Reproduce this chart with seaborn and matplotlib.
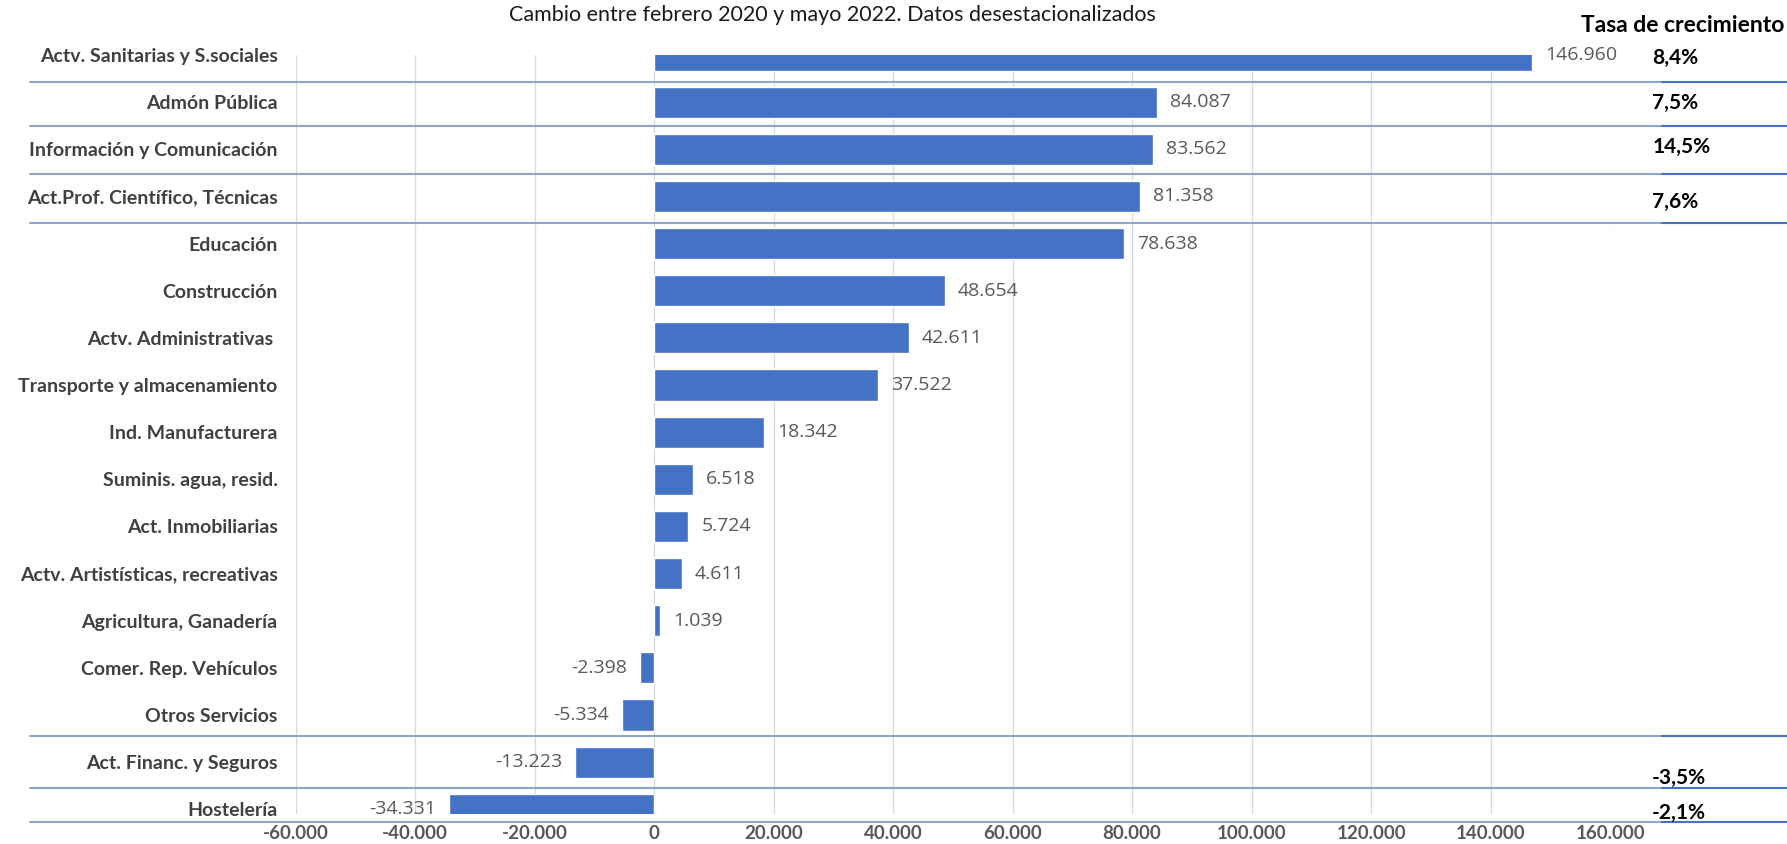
import pandas as pd
import matplotlib.pyplot as plt
import matplotlib.transforms as mtransforms
import seaborn as sns

# ------------------------
# Data
# ------------------------
sectors = [
    "Actv. Sanitarias y S.sociales",
    "Admón Pública",
    "Información y Comunicación",
    "Act.Prof. Científico, Técnicas",
    "Educación",
    "Construcción",
    "Actv. Administrativas ",
    "Transporte y almacenamiento",
    "Ind. Manufacturera",
    "Suminis. agua, resid.",
    "Act. Inmobiliarias",
    "Actv. Artistísticas, recreativas",
    "Agricultura, Ganadería",
    "Comer. Rep. Vehículos",
    "Otros Servicios",
    "Act. Financ. y Seguros",
    "Hostelería",
]
change = [146960, 84087, 83562, 81358, 78638, 48654, 42611, 37522,
          18342, 6518, 5724, 4611, 1039, -2398, -5334, -13223, -34331]

rate_labels = ["8,4%", "7,5%", "14,5%", "7,6%", "-3,5%", "-2,1%"]
rate_rows = [0, 1, 2, 3, 15, 16]
rate_shift = [0.07, 0.02, -0.05, 0.12, 0.34, 0.07]

x_ticks = [-60000, -40000, -20000, 0, 20000, 40000, 60000,
           80000, 100000, 120000, 140000, 160000]

# separator lines (row positions)
sep_rows = [0.58, 1.5, 2.53, 3.57, 14.45, 15.55, 16.26]


def fmt(v):
    return f"{v:,}".replace(",", ".")


df = pd.DataFrame({"sector": sectors, "change": change})

# ------------------------
# Plot
# ------------------------
sns.set_style("white")
plt.rcParams["font.family"] = ["Lato", "DejaVu Sans"]

fig = plt.figure(figsize=(17.87, 8.44), dpi=100)
ax = fig.add_axes([0.1654, 0.0355, 0.7356, 0.8993])

sns.barplot(data=df, x="change", y="sector", orient="h", color="#4472C4",
            saturation=1, width=0.66, ax=ax, zorder=3)

ax.set_xlim(-60000, 160000)
ax.set_ylim(16.1, 0.0)
ax.set_xticks(x_ticks)
ax.set_xticklabels([fmt(t) for t in x_ticks], fontsize=13.5, fontweight="bold",
                   color="#595959")
ax.set_yticks(range(len(sectors)))
ax.set_yticklabels(sectors, fontsize=14, fontweight="bold", color="#404040")
ax.tick_params(axis="x", length=0, pad=8)
ax.tick_params(axis="y", length=0, pad=13)
ax.set_xlabel("")
ax.set_ylabel("")
for s in ax.spines.values():
    s.set_visible(False)
ax.grid(axis="x", color="#d9d9d9", linewidth=0.9, zorder=0)
ax.set_axisbelow(True)

# value labels
for i, v in enumerate(change):
    ax.annotate(fmt(v), xy=(v, i), xytext=(9.4 if v >= 0 else -9.4, 0),
                textcoords="offset points", ha="left" if v >= 0 else "right",
                va="center", fontsize=14, color="#595959",
                family=["Open Sans", "DejaVu Sans"], annotation_clip=False)

# separator lines
trans = mtransforms.blended_transform_factory(ax.transAxes, ax.transData)
for y in sep_rows:
    ax.plot([-0.202, 1.0396], [y, y], transform=trans, color="#8ea5cf",
            linewidth=1.5, clip_on=False, zorder=1)
    ax.plot([1.0396, 1.14], [y, y], transform=trans, color="#4472C4",
            linewidth=1.5, clip_on=False, zorder=1)

# growth rates
for lab, r, d in zip(rate_labels, rate_rows, rate_shift):
    ax.text(1.032, r + d, lab, transform=trans, ha="left", va="center",
            fontsize=15, fontweight="bold", color="black", clip_on=False)

fig.text(832 / 1787, 1 - 15 / 844,
         "Cambio entre febrero 2020 y mayo 2022. Datos desestacionalizados",
         ha="center", va="center", fontsize=15.5, color="#1a1a1a")
fig.text(1784 / 1787, 1 - 25 / 844, "Tasa de crecimiento", ha="right",
         va="center", fontsize=16.5, fontweight="bold", color="black")

fig.savefig("out.png", dpi=100, facecolor="white")
